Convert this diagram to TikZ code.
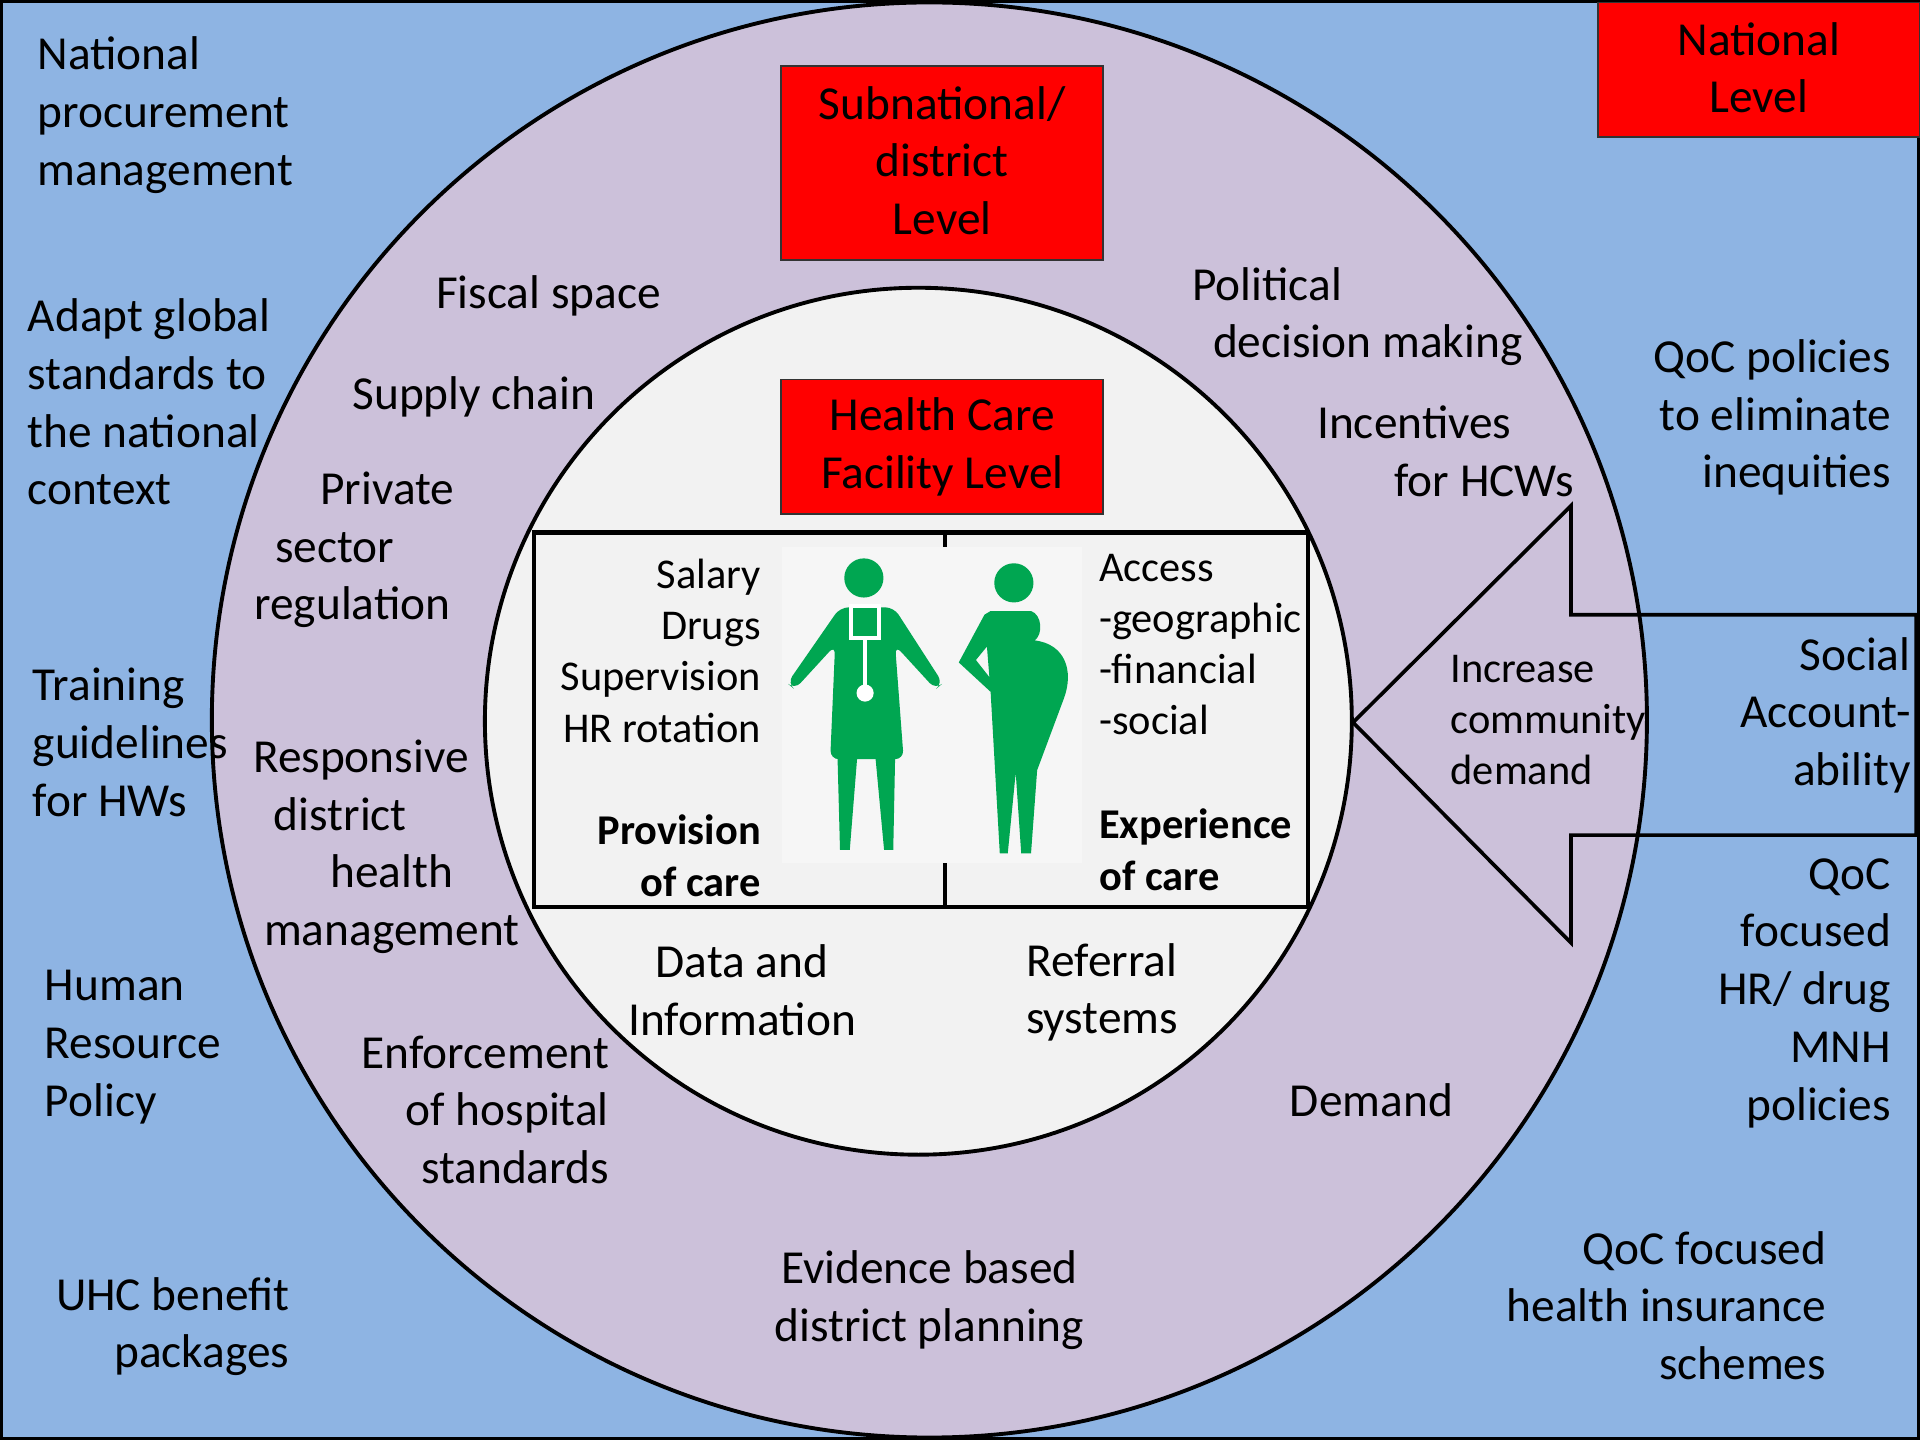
\documentclass[tikz,border=0pt]{standalone}
\usepackage{fontspec}
\setmainfont{Carlito}
\definecolor{natblue}{RGB}{142,180,227}
\definecolor{subring}{RGB}{204,193,218}
\definecolor{facgray}{RGB}{242,242,242}
\definecolor{picgray}{RGB}{246,246,246}
\definecolor{figgreen}{RGB}{0,166,81}
\newcommand\txtstrut{\rule[-0.08\baselineskip]{0pt}{\baselineskip}}
\tikzset{ring/.style = {draw, line width=0.9pt},
    txt/.style = {inner sep=0pt, font=\fontsize{11}{13.4}\selectfont, execute at begin node=\txtstrut, execute at end node=\txtstrut},
    sml/.style = {txt, font=\fontsize{9.85}{11.9}\selectfont},
    smlb/.style = {txt, font=\fontsize{9.85}{11.9}\selectfont\bfseries},
    lvl/.style = {txt, draw=black!80, fill=red, align=center},
    fig/.style = {fill=figgreen}}
\begin{document}
\begin{tikzpicture}[x=0.01cm,y=-0.01cm]
    \useasboundingbox (0,0) rectangle (1568,1176);
    \draw[line width=0.6pt, fill=natblue] (1,1) rectangle (1567,1175);
    \draw[ring, fill=subring] (759,588) circle (586);
    \draw[ring, fill=facgray] (750,589) circle (354);
    \draw[line width=1pt, fill=facgray] (436,435) rectangle (1068,741);
    \fill[picgray] (639,447) rectangle (884,705);
    \draw[line width=1pt] (772,435) -- (772,447) (772,705) -- (772,741);
    \fill[fig] (705.5,472) circle (16);
    \fill[fig, rounded corners=2pt] (686,496) -- (730,496) -- (770,558) -- (764,563) -- (731,527) -- (738,620) -- (678,620) -- (682,527) -- (649,563) -- (643,558) -- cycle;
    \fill[fig] (684,619) -- (700,619) -- (694,694) -- (686,694) -- cycle;
    \fill[fig] (715,619) -- (731,619) -- (729.5,694) -- (722,694) -- cycle;
    \draw[white, line width=0.9pt] (695,495) rectangle (718,521) (706.5,521) -- (706.5,561);
    \fill[white] (706.5,566) circle (7);
    \fill[fig] (828,476) circle (16);
    \fill[fig, even odd rule] (809,499) -- (842,499) .. controls (851,502) and (852,518) .. (845,523)
        .. controls (870,526) and (877,548) .. (869,570) -- (847,629) -- (842,697) -- (834,697) -- (829.5,631)
        -- (823,697) -- (816.5,697) -- (809,565) -- (783,541) -- (804,502) -- cycle
        (806,528) -- (797,539) -- (808,553) -- cycle;
    \draw[line width=0.85pt] (1105,590) -- (1283,413) -- (1283,502) -- (1565,502) -- (1565,682) -- (1283,682) -- (1283,770) -- cycle;
    \node[txt, align=left, anchor=west] (natproc) at (30,94) {National\\procurement\\management};
    \node[txt, align=left, anchor=west] (adapt) at (22,330) {Adapt global\\standards to\\the national\\context};
    \node[txt, align=left, anchor=west] (train) at (26,608) {Training\\guidelines\\for HWs};
    \node[txt, align=left, anchor=west] (hrpol) at (36,855) {Human\\Resource\\Policy};
    \node[txt, align=right, anchor=east] (uhc) at (237,1083.5) {UHC benefit\\packages};
    \node[lvl, minimum width=2.63cm, minimum height=1.1cm] (natlvl) at (1436.5,57) {National\\Level};
    \node[txt, align=right, anchor=east] (qocpol) at (1545,341) {QoC policies\\to eliminate\\inequities};
    \node[txt, align=right, anchor=east] (socacc) at (1561,584) {Social\\Account-\\ability};
    \node[txt, align=right, anchor=east] (qochr) at (1545,811) {QoC\\focused\\HR/ drug\\MNH\\policies};
    \node[txt, align=right, anchor=east] (qocins) at (1492,1068) {QoC focused\\health insurance\\schemes};
    \node[txt] (fiscal) at (448,233) {Fiscal space};
    \node[txt] (supply) at (387,316) {Supply chain};
    \node[txt, align=left, anchor=west] (private) at (207,449) {\hspace*{0.54cm}Private\\\hspace*{0.17cm}sector\\regulation};
    \node[txt, align=left, anchor=west] (respdhm) at (206,691.5) {Responsive\\\hspace*{0.17cm}district\\\hspace*{0.63cm}health\\\hspace*{0.09cm}management};
    \node[txt, align=right, anchor=east] (enforce) at (498,908) {Enforcement\\of hospital\\standards};
    \node[txt, align=center] (evid) at (759,1061.5) {Evidence based\\district planning};
    \node[txt] (demand) at (1120,892) {Demand};
    \node[txt, align=center] (referral) at (900,810.5) {Referral\\systems};
    \node[txt, align=center] (datainf) at (606,810.5) {Data and\\Information};
    \node[txt, align=left, anchor=west] (political) at (973,258.5) {Political\\\hspace*{0.17cm}decision making};
    \node[txt, align=left, anchor=west] (incent) at (1075,370.5) {Incentives\\\hspace*{0.63cm}for HCWs};
    \node[lvl, minimum width=2.63cm, minimum height=1.58cm] (sublvl) at (769.5,133) {Subnational/\\district\\Level};
    \node[lvl, minimum width=2.63cm, minimum height=1.1cm] (faclvl) at (769.5,365) {Health Care\\Facility Level};
    \node[sml, align=right, anchor=east] (inputs) at (622,533) {Salary\\Drugs\\Supervision\\HR rotation};
    \node[smlb, align=right, anchor=east] (provision) at (622,700.5) {Provision\\of care};
    \node[sml, align=left, anchor=west] (access) at (897,528) {Access\\-geographic\\-financial\\-social};
    \node[smlb, align=left, anchor=west] (experience) at (897,695.5) {Experience\\of care};
    \node[sml, align=left, anchor=west] (commdem) at (1184,589.5) {Increase\\community\\demand};
\end{tikzpicture}
\end{document}
